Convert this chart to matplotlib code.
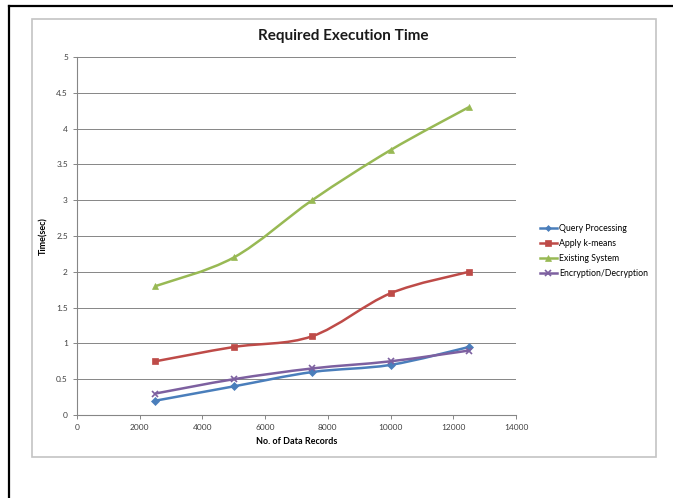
import matplotlib
matplotlib.use('Agg')
import matplotlib.pyplot as plt
from matplotlib.path import Path
from matplotlib.patches import PathPatch, Rectangle
from matplotlib.lines import Line2D
import numpy as np

plt.rcParams['font.family'] = ['Lato', 'DejaVu Sans']

# data
records = [2500, 5000, 7500, 10000, 12500]
query_processing = [0.2, 0.4, 0.6, 0.7, 0.95]
apply_kmeans = [0.75, 0.95, 1.1, 1.7, 2.0]
existing_system = [1.8, 2.2, 3.0, 3.7, 4.3]
encryption = [0.3, 0.5, 0.65, 0.75, 0.9]

x_ticks = [0, 2000, 4000, 6000, 8000, 10000, 12000, 14000]
y_ticks = [0, 0.5, 1, 1.5, 2, 2.5, 3, 3.5, 4, 4.5, 5]
y_ticklabels = ['0', '0.5', '1', '1.5', '2', '2.5', '3', '3.5', '4', '4.5', '5']

series = [
    ('Query Processing', query_processing, '#4a7ebb', 'D', 4),
    ('Apply k-means', apply_kmeans, '#be4b48', 's', 5),
    ('Existing System', existing_system, '#98b954', '^', 5),
    ('Encryption/Decryption', encryption, '#7d60a0', 'x', 5),
]


def smooth_path(ax, xs, ys):
    # smoothed line: cubic bezier segments through the points
    pts = ax.transData.transform(np.column_stack([xs, ys]))
    n = len(pts)
    verts = [pts[0]]
    codes = [Path.MOVETO]
    for i in range(n - 1):
        p0 = pts[max(i - 1, 0)]
        p1 = pts[i]
        p2 = pts[i + 1]
        p3 = pts[min(i + 2, n - 1)]
        c1 = p1 + (p2 - p0) / 6.0
        c2 = p2 - (p3 - p1) / 6.0
        verts += [c1, c2, p2]
        codes += [Path.CURVE4] * 3
    return Path(verts, codes)


fig = plt.figure(figsize=(6.73, 4.98), dpi=100)
W, H = 673, 498

# outer border (left and top only) and chart area frame
fig.add_artist(Line2D([9 / W, 9 / W], [0, 1 - 6 / H], transform=fig.transFigure,
                      color='#000000', linewidth=1.6))
fig.add_artist(Line2D([9 / W, 1], [1 - 6 / H, 1 - 6 / H], transform=fig.transFigure,
                      color='#000000', linewidth=1.6))
fig.patches.append(Rectangle((32 / W, 1 - 457 / H), (656 - 32) / W, (457 - 19) / H,
                             transform=fig.transFigure, fill=False,
                             edgecolor='#c4c4c4', linewidth=1.2))

ax = fig.add_axes([77 / W, 1 - 415 / H, (516 - 77) / W, (415 - 57) / H])
ax.set_xlim(0, 14000)
ax.set_ylim(0, 5)
ax.set_xticks(x_ticks)
ax.set_yticks(y_ticks)
ax.set_yticklabels(y_ticklabels)
ax.tick_params(labelsize=6, colors='#404040', length=3, width=0.7, direction='out')
ax.tick_params(axis='both', color='#868686')
ax.grid(axis='y', color='#868686', linewidth=0.7)
ax.set_axisbelow(True)
for side in ['top', 'right']:
    ax.spines[side].set_visible(False)
for side in ['left', 'bottom']:
    ax.spines[side].set_color('#868686')
    ax.spines[side].set_linewidth(0.8)

fig.canvas.draw()
handles = []
for name, vals, color, marker, ms in series:
    patch = PathPatch(smooth_path(ax, records, vals), facecolor='none',
                      edgecolor=color, linewidth=1.8, transform=None, zorder=3)
    ax.add_artist(patch)
    mew = 1.2 if marker == 'x' else 0.5
    ax.plot(records, vals, linestyle='none', marker=marker, markersize=ms,
            color=color, markeredgecolor=color, markeredgewidth=mew, zorder=4)
    handles.append(Line2D([], [], color=color, linewidth=1.8, marker=marker,
                          markersize=ms - 1, markeredgewidth=mew, label=name))

# title is centred over the whole chart area, not the plot
fig.text(343 / W, 1 - 36 / H, 'Required Execution Time', fontsize=11,
         fontweight='bold', color='#1a1a1a', ha='center', va='center')
ax.set_xlabel('No. of Data Records', fontsize=6.5, fontweight='bold', labelpad=4)
ax.set_ylabel('Time(sec)', fontsize=6.5, fontweight='bold', labelpad=6)

fig.legend(handles=handles, loc='center left', bbox_to_anchor=(536 / W, 1 - 251 / H),
           frameon=False, fontsize=6.3, handlelength=2.0, handletextpad=0.2,
           labelspacing=0.7, borderaxespad=0)

fig.savefig('out.png', dpi=100, facecolor='white')
